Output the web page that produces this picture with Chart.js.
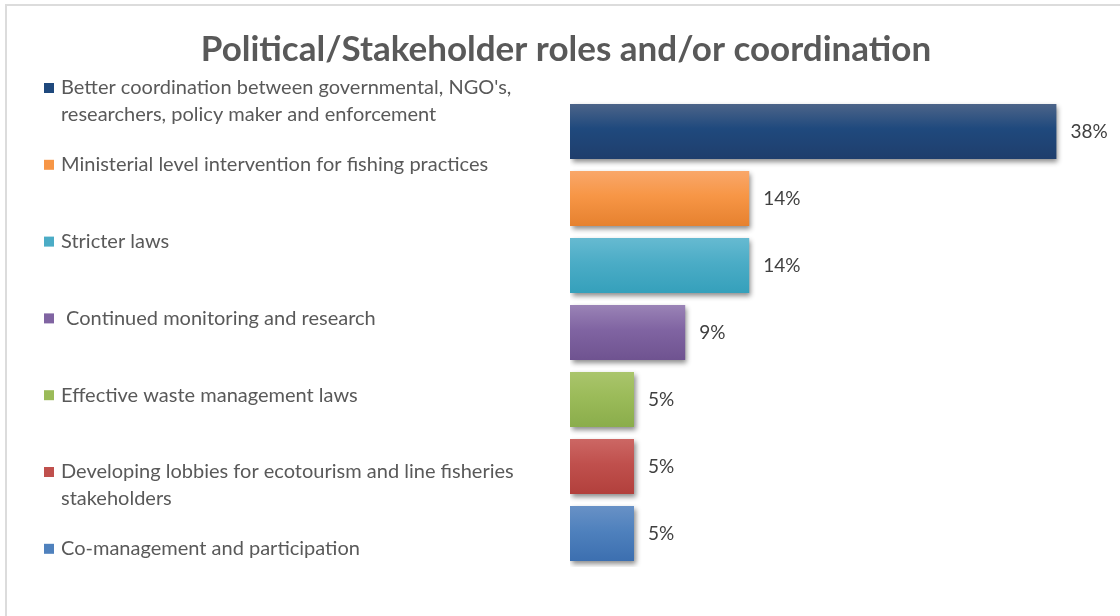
<!DOCTYPE html>
<html>
<head>
<meta charset="utf-8">
<script src="https://cdn.jsdelivr.net/npm/chart.js@4"></script>
<style>
  html, body { margin: 0; padding: 0; background: #fff; }
  #frame {
    position: absolute; left: 5px; top: 4px; width: 1115px; height: 612px;
    border-top: 2px solid #dcdcdc; border-left: 2px solid #dcdcdc;
  }
  #wrap { position: absolute; left: 0; top: 0; width: 1120px; height: 616px; }
</style>
</head>
<body>
<div id="frame"></div>
<div id="wrap"><canvas id="rolesChart" width="1120" height="616"></canvas></div>
<script>
"use strict";

var categories = [
  ["Better coordination between governmental, NGO's,", "researchers, policy maker and enforcement"],
  ["Ministerial level intervention for fishing practices"],
  ["Stricter laws"],
  [" Continued monitoring and research"],
  ["Effective waste management laws"],
  ["Developing lobbies for ecotourism and line fisheries", "stakeholders"],
  ["Co-management and participation"]
];
var percentages = [38, 14, 14, 9, 5, 5, 5];
var valueLabels = ['38%', '14%', '14%', '9%', '5%', '5%', '5%'];

// base colour, light top, dark bottom of each bar
var COLORS = [
  ['#1F497D', '#4c6489', '#1f3e6c'],
  ['#F79646', '#f9a76a', '#e6812f'],
  ['#4BACC6', '#66bad1', '#35a0bb'],
  ['#8064A2', '#9a83b6', '#6f5390'],
  ['#9BBB59', '#aac56c', '#8aad4b'],
  ['#C0504D', '#cc6764', '#b2403c'],
  ['#4F81BD', '#6891c6', '#3c6fb0']
];
var BAR_FRACTION = 0.9 * 0.91;
var FONT = 'Lato, "Open Sans", sans-serif';

var barGradient = function (context) {
  var chart = context.chart;
  var yScale = chart.scales.y;
  var c = COLORS[context.dataIndex];
  if (!chart.chartArea || !yScale) {
    return c[0];
  }
  var center = yScale.getPixelForValue(context.dataIndex);
  var half = (chart.chartArea.height / categories.length) * BAR_FRACTION / 2;
  var g = chart.ctx.createLinearGradient(0, center - half, 0, center + half);
  g.addColorStop(0, c[1]);
  g.addColorStop(0.45, c[0]);
  g.addColorStop(1, c[2]);
  return g;
};

// soft shadow under the bars
var barShadow = {
  id: 'barShadow',
  beforeDatasetDraw: function (chart) {
    var ctx = chart.ctx;
    ctx.save();
    ctx.shadowColor = 'rgba(0,0,0,0.45)';
    ctx.shadowBlur = 5;
    ctx.shadowOffsetX = 2;
    ctx.shadowOffsetY = 3;
  },
  afterDatasetDraw: function (chart) {
    chart.ctx.restore();
  }
};

// percentage text right of each bar
var valueText = {
  id: 'valueText',
  afterDatasetsDraw: function (chart) {
    var ctx = chart.ctx;
    var meta = chart.getDatasetMeta(0);
    ctx.save();
    ctx.font = '19px ' + FONT;
    ctx.fillStyle = '#404040';
    ctx.textBaseline = 'middle';
    ctx.textAlign = 'left';
    meta.data.forEach(function (bar, i) {
      ctx.fillText(valueLabels[i], bar.x + 14, bar.y);
    });
    ctx.restore();
  }
};

// legend column on the left
var sideLegend = {
  id: 'sideLegend',
  afterDraw: function (chart) {
    var ctx = chart.ctx;
    var top = 88, step = 76.8, lineGap = 27;
    ctx.save();
    ctx.font = '20px ' + FONT;
    ctx.textBaseline = 'middle';
    ctx.textAlign = 'left';
    categories.forEach(function (lines, i) {
      var y = top + i * step;
      ctx.fillStyle = COLORS[i][0];
      ctx.fillRect(44, y - 5, 10, 10);
      ctx.fillStyle = '#595959';
      lines.forEach(function (line, k) {
        ctx.fillText(line, 61, y + k * lineGap);
      });
    });
    ctx.restore();
  }
};

var load_roles_chart = function () {
  var el = document.getElementById('rolesChart').getContext('2d');
  var config = {
    type: 'bar',
    data: {
      labels: categories,
      datasets: [{
        data: percentages,
        backgroundColor: barGradient,
        borderWidth: 0,
        barPercentage: 0.9,
        categoryPercentage: 0.91
      }]
    },
    options: {
      indexAxis: 'y',
      responsive: false,
      animation: false,
      layout: { padding: { left: 50, right: 38, top: 0, bottom: 49 } },
      scales: {
        x: { display: false, min: 0, max: 40 },
        y: {
          display: true,
          ticks: { display: false },
          grid: { display: false },
          border: { display: false },
          afterFit: function (scale) { scale.width = 520; }
        }
      },
      plugins: {
        legend: { display: false },
        tooltip: { enabled: false },
        title: {
          display: true,
          text: 'Political/Stakeholder roles and/or coordination',
          color: '#595959',
          font: { family: FONT, size: 35, weight: 'bold' },
          padding: { top: 29, bottom: 27 }
        }
      }
    },
    plugins: [barShadow, valueText, sideLegend]
  };
  return new Chart(el, config);
};

load_roles_chart();
</script>
</body>
</html>
